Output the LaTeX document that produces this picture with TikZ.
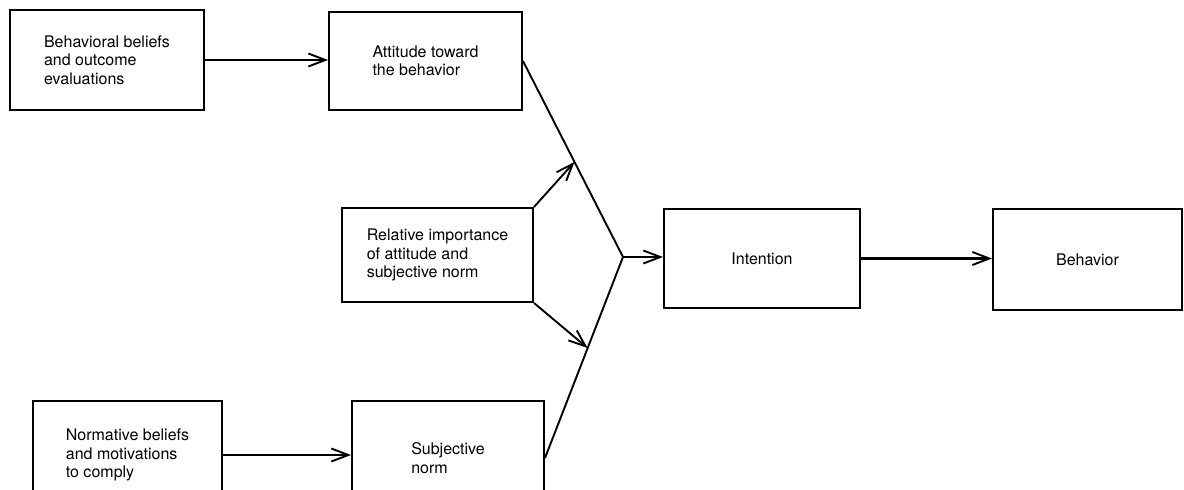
\documentclass[tikz,border=0pt]{standalone}
\usepackage{fontspec}
\setmainfont{TeX Gyre Heros}
\usetikzlibrary{arrows.meta,calc}

\tikzset{
  box/.style={draw, line width=2pt, align=left, inner sep=0pt,
    font=\fontsize{16}{18.5}\selectfont},
  link/.style={line width=1.9pt},
  flow/.style={line width=1.9pt, -{Straight Barb[length=17pt,width=13pt,line width=1.9pt]}},
  mainflow/.style={flow, line width=2.6pt}
}

\begin{document}
\begin{tikzpicture}[x=1pt, y=-1pt]
  \clip (0,0) rectangle (1184,490);
  \fill[white] (0,0) rectangle (1184,490);

  % boxes
  \node[box, minimum width=194pt, minimum height=100pt] (beliefs) at (107,60)
    {Behavioral beliefs\\and outcome\\evaluations};
  \node[box, minimum width=193pt, minimum height=98pt] (attitude) at (425.5,61)
    {Attitude toward\\the behavior};
  \node[box, minimum width=191pt, minimum height=94pt] (weights) at (437.5,255)
    {Relative importance\\of attitude and\\subjective norm};
  \node[box, minimum width=189pt, minimum height=108pt] (normbel) at (127.5,455)
    {Normative beliefs\\and motivations\\to comply};
  \node[box, minimum width=192pt, minimum height=114pt] (subjnorm) at (448,458)
    {Subjective\\norm};
  \node[box, minimum width=196pt, minimum height=99pt] (intention) at (762,258.5)
    {Intention};
  \node[box, minimum width=189pt, minimum height=101pt] (behavior) at (1087.5,259.5)
    {Behavior};

  % converging point of the two determinants
  \coordinate (apex) at (623,257);

  % connectors
  \draw[mainflow] (beliefs.east) -- (beliefs.east -| attitude.west);
  \draw[mainflow] (normbel.east) -- (normbel.east -| subjnorm.west);
  \draw[link] (attitude.east) -- (apex);
  \draw[link] (subjnorm.east) -- (apex);
  \draw[flow] (weights.north east) -- ($(attitude.east)!0.515!(apex)$);
  \draw[flow] (weights.south east) -- ($(subjnorm.east)!0.547!(apex)$);
  \draw[flow] (apex) -- (apex -| intention.west);
  \draw[mainflow] (intention.east) -- (intention.east -| behavior.west);
\end{tikzpicture}
\end{document}
